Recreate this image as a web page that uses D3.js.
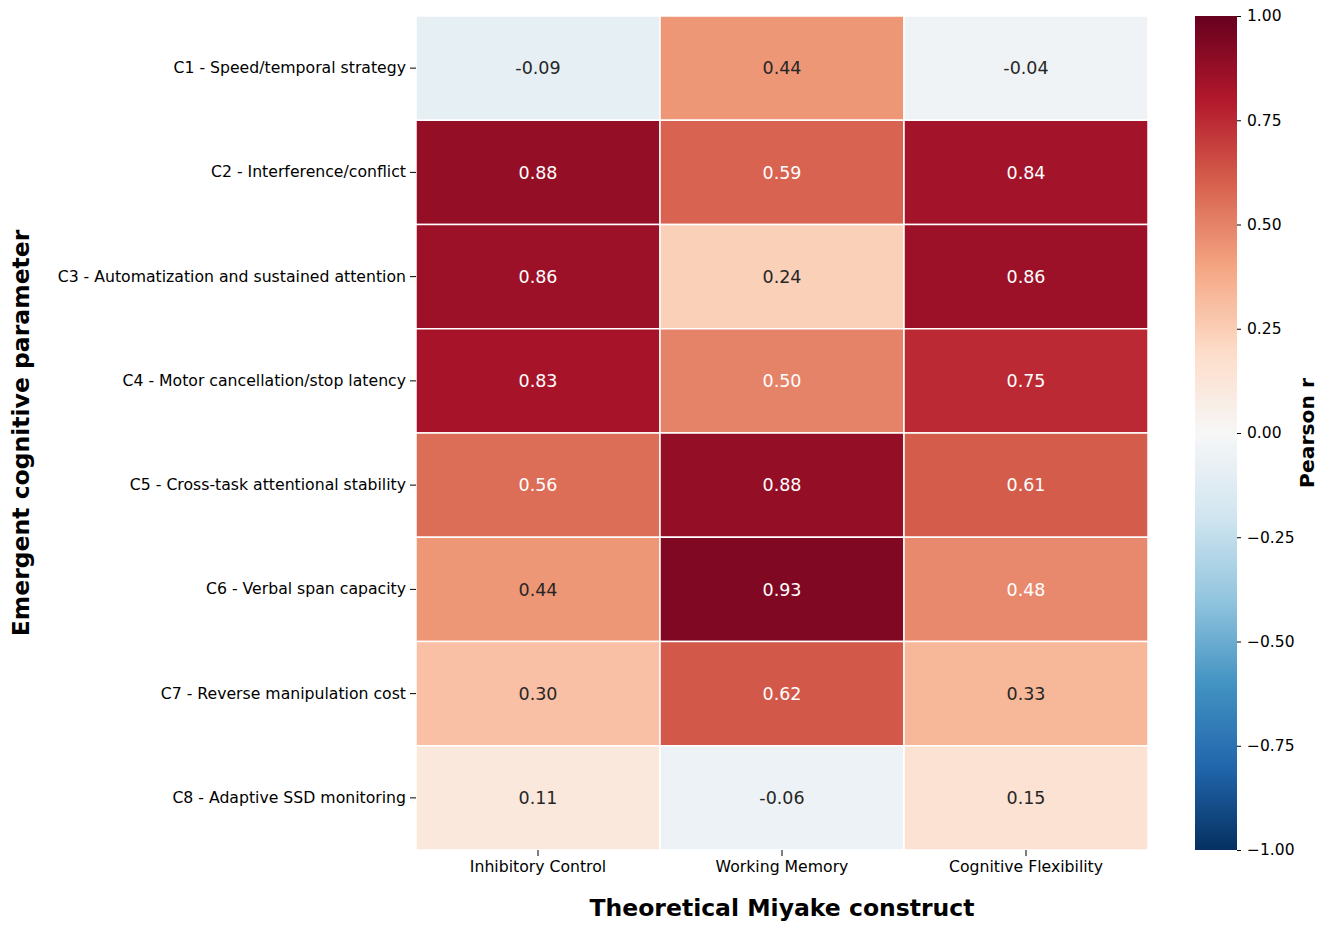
<!DOCTYPE html>
<html>
<head>
<meta charset="utf-8">
<script src="https://cdn.jsdelivr.net/npm/d3@7"></script>
<style>
  body { margin: 0; background: #fff; }
  svg { font-family: "DejaVu Sans", sans-serif; }
</style>
</head>
<body>
<div id="chart"></div>
<script>
const rows = [
  'C1 - Speed/temporal strategy',
  'C2 - Interference/conflict',
  'C3 - Automatization and sustained attention',
  'C4 - Motor cancellation/stop latency',
  'C5 - Cross-task attentional stability',
  'C6 - Verbal span capacity',
  'C7 - Reverse manipulation cost',
  'C8 - Adaptive SSD monitoring'
];
const cols = ['Inhibitory Control', 'Working Memory', 'Cognitive Flexibility'];
const inhibitory = [-0.09, 0.88, 0.86, 0.83, 0.56, 0.44, 0.30, 0.11];
const working = [0.44, 0.59, 0.24, 0.50, 0.88, 0.93, 0.62, -0.06];
const flexibility = [-0.04, 0.84, 0.86, 0.75, 0.61, 0.48, 0.33, 0.15];
const cbar_ticks = [1, 0.75, 0.5, 0.25, 0, -0.25, -0.5, -0.75, -1];

const width = 1324;
const height = 930;
const plot = { left: 416, right: 1148, top: 16, bottom: 850 };
const cbar = { left: 1195, right: 1237 };
const tick_size = 15.7;

const series = [inhibitory, working, flexibility];
const cells = [];
rows.forEach((r, i) => {
  cols.forEach((c, j) => cells.push({ row: r, col: c, value: series[j][i] }));
});

// RdBu_r as a piecewise linear map over the 11 brewer colours
const brewer = d3.schemeRdBu[11].slice().reverse();
const color = d3.scaleLinear()
  .domain(d3.range(11).map(k => -1 + k * 0.2))
  .range(brewer)
  .interpolate(d3.interpolateRgb);

const luminance = c => {
  const rgb = d3.rgb(c);
  const f = v => { v /= 255; return v <= 0.03928 ? v / 12.92 : Math.pow((v + 0.055) / 1.055, 2.4); };
  return 0.2126 * f(rgb.r) + 0.7152 * f(rgb.g) + 0.0722 * f(rgb.b);
};

const x = d3.scaleBand().domain(cols).range([plot.left, plot.right]);
const y = d3.scaleBand().domain(rows).range([plot.top, plot.bottom]);
const c_scale = d3.scaleLinear().domain([-1, 1]).range([plot.bottom, plot.top]);

const svg = d3.select('#chart')
  .append('svg')
    .attr('width', width)
    .attr('height', height);

svg.selectAll('.cell')
    .data(cells)
  .join('rect')
    .attr('class', 'cell')
    .attr('x', d => x(d.col))
    .attr('y', d => y(d.row))
    .attr('width', x.bandwidth())
    .attr('height', y.bandwidth())
    .attr('fill', d => color(d.value))
    .attr('stroke', '#fff')
    .attr('stroke-width', 1.5);

svg.selectAll('.annot')
    .data(cells)
  .join('text')
    .attr('class', 'annot')
    .attr('x', d => x(d.col) + x.bandwidth() / 2)
    .attr('y', d => y(d.row) + y.bandwidth() / 2)
    .attr('dy', '0.35em')
    .attr('text-anchor', 'middle')
    .attr('font-size', 17.5)
    .attr('fill', d => luminance(color(d.value)) > 0.408 ? '#262626' : '#fff')
    .text(d => d.value.toFixed(2));

// Axes
const yAxis = svg.append('g')
  .attr('transform', `translate(${plot.left},0)`)
  .call(d3.axisLeft(y).tickSize(6).tickPadding(4));
const xAxis = svg.append('g')
  .attr('transform', `translate(0,${plot.bottom})`)
  .call(d3.axisBottom(x).tickSize(6).tickPadding(5));
[yAxis, xAxis].forEach(a => {
  a.select('.domain').remove();
  a.selectAll('text').attr('font-size', tick_size).attr('fill', '#000').attr('font-family', '"DejaVu Sans", sans-serif');
  a.selectAll('line').attr('stroke', '#000').attr('stroke-width', 1);
});

svg.append('text')
  .attr('x', (plot.left + plot.right) / 2)
  .attr('y', 916)
  .attr('text-anchor', 'middle')
  .attr('font-size', 23.5)
  .attr('font-weight', 'bold')
  .text('Theoretical Miyake construct');

svg.append('text')
  .attr('transform', `translate(29,${(plot.top + plot.bottom) / 2}) rotate(-90)`)
  .attr('text-anchor', 'middle')
  .attr('font-size', 23.5)
  .attr('font-weight', 'bold')
  .text('Emergent cognitive parameter');

// Colour bar
const grad = svg.append('defs').append('linearGradient')
  .attr('id', 'cbar-grad')
  .attr('x1', 0).attr('y1', 1).attr('x2', 0).attr('y2', 0);
grad.selectAll('stop')
    .data(d3.range(0, 1.0001, 0.02))
  .join('stop')
    .attr('offset', d => d)
    .attr('stop-color', d => color(-1 + 2 * d));

svg.append('rect')
  .attr('x', cbar.left)
  .attr('y', plot.top)
  .attr('width', cbar.right - cbar.left)
  .attr('height', plot.bottom - plot.top)
  .attr('fill', 'url(#cbar-grad)');

const cAxis = svg.append('g')
  .attr('transform', `translate(${cbar.right},0)`)
  .call(d3.axisRight(c_scale).tickValues(cbar_ticks).tickSize(4).tickPadding(6)
    .tickFormat(d => d3.format('.2f')(d).replace('-', '\u2212')));
cAxis.select('.domain').remove();
cAxis.selectAll('text').attr('font-size', 15.5).attr('fill', '#000').attr('font-family', '"DejaVu Sans", sans-serif');
cAxis.selectAll('line').attr('stroke', '#000');

svg.append('text')
  .attr('transform', `translate(1314,${(plot.top + plot.bottom) / 2}) rotate(-90)`)
  .attr('text-anchor', 'middle')
  .attr('font-size', 20.3)
  .attr('font-weight', 'bold')
  .text('Pearson r');
</script>
</body>
</html>
